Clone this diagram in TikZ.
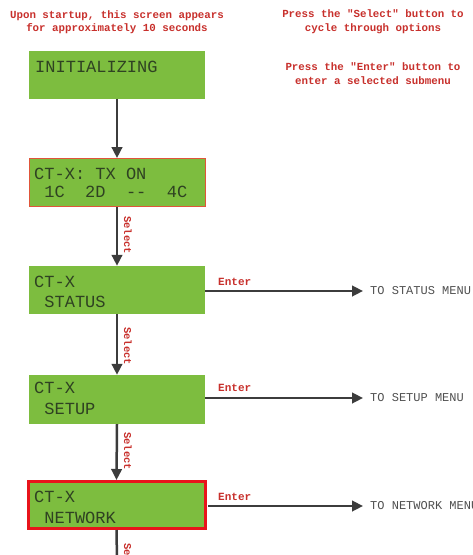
\documentclass[tikz,border=0pt]{standalone}
\usepackage{fontspec}
\newfontfamily\mono{Liberation Mono}
\usetikzlibrary{arrows.meta}
\definecolor{lcd}{HTML}{7DBD3F}
\definecolor{lcdtext}{HTML}{2F4222}
\definecolor{notered}{HTML}{C8302C}
\definecolor{arr}{HTML}{3C3C3C}
\definecolor{menutext}{HTML}{505050}
\definecolor{thinred}{HTML}{E0553A}
\definecolor{boldred}{HTML}{E8141B}
\begin{document}
\begin{tikzpicture}[x=1pt,y=-1pt,
  lcdbox/.style={fill=lcd, minimum width=176pt, minimum height=48pt, inner sep=0pt},
  lcdtxt/.style={font=\mono\fontsize{17}{17}\selectfont, text=lcdtext, anchor=west, inner sep=0pt},
  notetxt/.style={font=\mono\bfseries\fontsize{10.8}{13.5}\selectfont, text=notered, align=center, inner sep=0pt},
  flow/.style={draw=arr, line width=2.5pt, -{Triangle[length=11pt,width=10.5pt]}},
  plainflow/.style={draw=arr, line width=2.5pt},
  sel/.style={font=\mono\bfseries\fontsize{10.5}{10.5}\selectfont, text=notered, rotate=-90, anchor=west, inner sep=0pt},
  entertxt/.style={font=\mono\bfseries\fontsize{11}{11}\selectfont, text=notered, anchor=west, inner sep=0pt},
  menutxt/.style={font=\mono\fontsize{12}{12}\selectfont, text=menutext, anchor=west, inner sep=0pt}
]
\useasboundingbox (0,0) rectangle (472,555);
\fill[white] (0,0) rectangle (472,555);
\clip (0,0) rectangle (472,555);

% notes
\node[notetxt] (noteA) at (117,22) {Upon startup, this screen appears\\for approximately 10 seconds};
\node[notetxt] (noteB) at (373,21.5) {Press the "Select" button to\\cycle through options};
\node[notetxt] (noteC) at (373,73.5) {Press the "Enter" button to\\enter a selected submenu};

% boxes
\node[lcdbox] (init) at (117,74.5) {};
\node[lcdtxt] (initT) at (35,67) {INITIALIZING};

\node[lcdbox, minimum height=48pt, draw=thinred, line width=0.9pt] (txon) at (117,182.5) {};
\node[lcdtxt] (txonA) at (34,174) {CT-X: TX ON};
\node[lcdtxt] (txonB) at (34,192) {\ 1C\ \ 2D\ \ --\ \ 4C};

\node[lcdbox] (status) at (117,290) {};
\node[lcdtxt] (statusA) at (34,282) {CT-X};
\node[lcdtxt] (statusB) at (34,302) {\ STATUS};

\node[lcdbox, minimum height=49pt] (setup) at (117,399.5) {};
\node[lcdtxt] (setupA) at (34,388) {CT-X};
\node[lcdtxt] (setupB) at (34,409) {\ SETUP};

\node[lcdbox, minimum width=177pt, minimum height=47pt, draw=boldred, line width=3pt] (network) at (116.5,505) {};
\node[lcdtxt] (networkA) at (34,497) {CT-X};
\node[lcdtxt] (networkB) at (34,518) {\ NETWORK};

% vertical flow
\draw[flow] (init.south) -- (txon.north);
\draw[flow] (txon.south) -- (status.north);
\draw[flow] (status.south) -- (setup.north);
\draw[flow] (setup.south) -- (network.north);
\coordinate (bottomEnd) at (117,560);
\draw[plainflow] (network.south) -- (bottomEnd);

\node[sel] (selA) at (128,216) {Select};
\node[sel] (selB) at (128,327) {Select};
\node[sel] (selC) at (128,432) {Select};
\node[sel] (selD) at (128,543) {Select};

% enter arrows
\node[menutxt] (toStatus) at (370,291) {TO STATUS MENU};
\node[menutxt] (toSetup) at (370,398) {TO SETUP MENU};
\node[menutxt] (toNetwork) at (370,506) {TO NETWORK MENU};

\draw[flow] (status.east |- toStatus.west) -- ([xshift=-7pt]toStatus.west);
\draw[flow] (setup.east |- toSetup.west) -- ([xshift=-7pt]toSetup.west);
\draw[flow] ([xshift=1.5pt]network.east |- toNetwork.west) -- ([xshift=-7pt]toNetwork.west);

\node[entertxt] (enterA) at (218,282) {Enter};
\node[entertxt] (enterB) at (218,388) {Enter};
\node[entertxt] (enterC) at (218,497) {Enter};
\end{tikzpicture}
\end{document}
